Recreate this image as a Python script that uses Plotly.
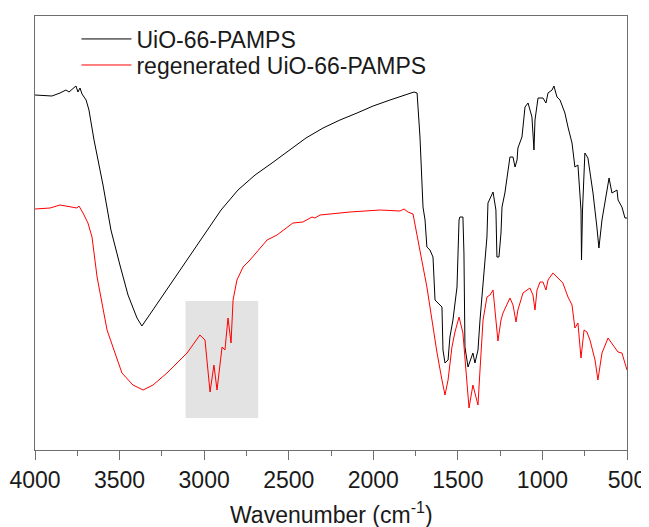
import plotly.graph_objects as go

# ---- data (wavenumber in cm^-1, transmittance in arbitrary units) ----
uio_wavenumber = [4000, 3900, 3852, 3817, 3799, 3781, 3758, 3746, 3734, 3722, 3698, 3681, 3651,
                  3598, 3551, 3498, 3450, 3397, 3368, 3303, 3202, 3101, 3001, 2900, 2800, 2699,
                  2599, 2498, 2398, 2297, 2197, 2096, 2001, 1901, 1800, 1759, 1741, 1724, 1706,
                  1694, 1683, 1665, 1647, 1635, 1594, 1588, 1576, 1558, 1547, 1529, 1505, 1499,
                  1493, 1488, 1470, 1464, 1458, 1440, 1411, 1399, 1381, 1369, 1351, 1328, 1322,
                  1292, 1275, 1269, 1257, 1245, 1239, 1222, 1192, 1174, 1162, 1150, 1145, 1121,
                  1103, 1085, 1062, 1050, 1044, 1026, 997, 979, 967, 943, 932, 914, 896, 867,
                  849, 825, 808, 790, 772, 769, 763, 749, 731, 701, 678, 666, 648, 618, 606,
                  589, 559, 553, 530, 512, 500]
uio_transmittance = [355, 354, 357, 360, 358, 361, 364, 358, 362, 356, 350, 340, 310,
                     265, 220, 185, 155, 132, 124, 140, 165, 190, 215, 240, 260, 275,
                     287, 300, 312, 322, 330, 337, 344, 350, 356, 358, 357, 313, 243,
                     230, 203, 200, 193, 150, 143, 100, 87, 90, 113, 130, 163, 197,
                     230, 233, 233, 197, 103, 83, 97, 87, 100, 130, 163, 213, 247,
                     258, 240, 193, 193, 217, 243, 257, 293, 293, 283, 290, 302, 313,
                     343, 347, 333, 300, 330, 352, 352, 347, 357, 360, 364, 353, 350, 337,
                     323, 307, 283, 285, 240, 190, 240, 297, 292, 257, 223, 202, 230, 263, 272,
                     257, 260, 250, 243, 232, 232]

regen_wavenumber = [4000, 3911, 3852, 3793, 3752, 3740, 3716, 3687, 3663, 3633, 3574, 3486, 3421,
                    3361, 3302, 3220, 3101, 3025, 2995, 2965, 2942, 2924, 2894, 2877, 2859, 2841,
                    2829, 2806, 2770, 2729, 2688, 2628, 2569, 2475, 2416, 2362, 2345, 2315, 2138,
                    1960, 1842, 1818, 1795, 1765, 1736, 1712, 1683, 1653, 1623, 1594, 1576, 1558,
                    1535, 1517, 1493, 1470, 1452, 1434, 1411, 1381, 1369, 1351, 1328, 1310, 1292,
                    1275, 1263, 1245, 1233, 1192, 1174, 1156, 1145, 1115, 1074, 1056, 1044, 1032,
                    1014, 997, 979, 967, 938, 908, 879, 849, 825, 808, 790, 772, 754, 737, 719,
                    689, 672, 648, 612, 583, 553, 530, 506, 500]
regen_transmittance = [241, 242, 245, 243, 242, 244, 237, 227, 213, 173, 120, 77, 65,
                       60, 65, 77, 97, 115, 110, 58, 85, 60, 103, 100, 132, 107,
                       150, 170, 183, 190, 198, 210, 215, 227, 228, 233, 232, 235, 238,
                       240, 239, 241, 238, 236, 210, 190, 163, 130, 97, 70, 55, 70,
                       103, 118, 133, 117, 80, 42, 65, 45, 80, 130, 153, 155, 160,
                       130, 109, 130, 137, 152, 145, 128, 140, 157, 162, 155, 140, 160,
                       168, 168, 160, 170, 177, 172, 167, 153, 145, 122, 127, 92, 120, 118, 110,
                       90, 70, 97, 112, 105, 98, 97, 82, 80]

series_names = ["UiO-66-PAMPS", "regenerated UiO-66-PAMPS"]
series_colors = ["#000000", "#ff0000"]

highlight_band = [3110, 2680]      # wavenumber span of shaded C-H region
highlight_levels = [32, 149]       # transmittance span of shaded region

tick_values = [4000, 3500, 3000, 2500, 2000, 1500, 1000, 500]
x_title = "Wavenumber (cm<sup>-1</sup>)"

FONT = "Liberation Sans, Arial, sans-serif"
TXT = "#1a1a1a"
AX = "#6e6e6e"

fig = go.Figure()
fig.add_trace(go.Scatter(x=uio_wavenumber, y=uio_transmittance, mode="lines",
                         name=series_names[0], legend="legend",
                         line=dict(color=series_colors[0], width=1)))
fig.add_trace(go.Scatter(x=regen_wavenumber, y=regen_transmittance, mode="lines",
                         name=series_names[1], legend="legend2",
                         line=dict(color=series_colors[1], width=1)))

fig.add_shape(type="rect", xref="x", yref="y",
              x0=highlight_band[0], x1=highlight_band[1],
              y0=highlight_levels[0], y1=highlight_levels[1],
              fillcolor="#e3e3e3", line=dict(width=0), layer="below")

# axis title placed as a centred caption below the tick labels
fig.add_annotation(text=x_title, xref="paper", yref="paper", x=0.5, y=-0.145,
                   xanchor="center", yanchor="middle", showarrow=False,
                   font=dict(size=23, family=FONT, color=TXT))

legend_style = dict(xanchor="left", yanchor="middle", bgcolor="rgba(0,0,0,0)",
                    borderwidth=0, itemwidth=50,
                    font=dict(size=23, family=FONT, color=TXT))

# the page body adds an 8 px offset, so the figure is sized to fit the window
fig.update_layout(
    width=641, height=519,
    margin=dict(l=27, r=22, t=8, b=77, autoexpand=False),
    paper_bgcolor="white", plot_bgcolor="white",
    font=dict(family=FONT, color=TXT),
    showlegend=True,
    legend=dict(x=0.07, y=0.947, **legend_style),
    legend2=dict(x=0.07, y=0.887, **legend_style),
)
fig.update_xaxes(range=[4000, 500], tickvals=tick_values, automargin=False,
                 ticks="outside", ticklen=9, tickwidth=1, tickcolor=AX,
                 minor=dict(dtick=250, ticks="outside", ticklen=5, tickwidth=1, tickcolor=AX),
                 showline=True, linecolor=AX, linewidth=1, mirror=True,
                 showgrid=False, zeroline=False,
                 tickfont=dict(size=23, family=FONT, color=TXT))
fig.update_yaxes(range=[0, 434], showticklabels=False, ticks="", automargin=False,
                 showline=True, linecolor=AX, linewidth=1, mirror=True,
                 showgrid=False, zeroline=False)

fig.write_html("out.html")
